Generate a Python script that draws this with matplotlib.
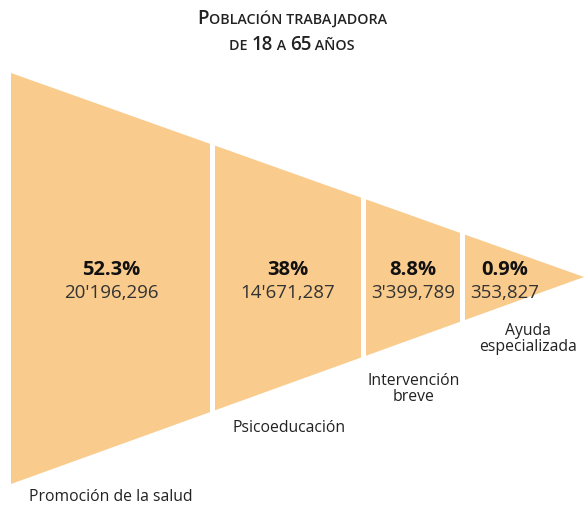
import matplotlib
matplotlib.use("Agg")
import matplotlib.pyplot as plt
from matplotlib.patches import Polygon

# data
stages = ["Promoción de la salud", "Psicoeducación", "Intervención\nbreve", "Ayuda\nespecializada"]
percents = ["52.3%", "38%", "8.8%", "0.9%"]
people = [20196296, 14671287, 3399789, 353827]

# layout (pixels)
W, H = 584, 508
left, right = 11, 584
top, bottom, mid = 73, 484, 277
seg_edges = [(11, 210), (215, 361), (366, 460), (465, 584)]
text_x = [111, 288, 413, 505]
label_pos = [(111, 497), (289, 428), (414, 389), (528, 339)]
fill = "#F9CB8C"
dark = "#222222"
font = "Open Sans"


def fmt(n):
    s = f"{n:,}"
    if s.count(",") == 2:
        s = s.replace(",", "'", 1)
    return s


def edge_y(x, y0):
    return y0 + (mid - y0) * (x - left) / (right - left)


fig = plt.figure(figsize=(W / 100, H / 100), dpi=100)
ax = fig.add_axes([0, 0, 1, 1])
ax.set_xlim(0, W)
ax.set_ylim(H, 0)
ax.axis("off")

for (x0, x1), pct, n, tx, lab, (lx, ly) in zip(seg_edges, percents, people, text_x, stages, label_pos):
    pts = [(x0, edge_y(x0, top)), (x1, edge_y(x1, top)),
           (x1, edge_y(x1, bottom)), (x0, edge_y(x0, bottom))]
    ax.add_patch(Polygon(pts, closed=True, facecolor=fill, edgecolor="none"))
    ax.text(tx, 270, pct, ha="center", va="center", fontsize=14.5, fontweight="bold",
            color="#111111", family=font)
    ax.text(tx, 293, fmt(n), ha="center", va="center", fontsize=13.5, color="#333333",
            family=font)
    ax.text(lx, ly, lab, ha="center", va="center", fontsize=11.3, color=dark,
            family=font, linespacing=1.0)

# title in small caps
renderer = fig.canvas.get_renderer()


def small_caps_line(text, y, big=13.5, small=10.3):
    pieces = []
    for ch in text:
        if ch == " ":
            pieces.append((" ", small))
        elif ch.isupper() or ch.isdigit():
            pieces.append((ch, big))
        else:
            pieces.append((ch.upper(), small))
    # merge runs of same size
    runs = []
    for ch, sz in pieces:
        if runs and runs[-1][1] == sz:
            runs[-1][0] += ch
        else:
            runs.append([ch, sz])
    x = 0
    arts = []
    for s, sz in runs:
        t = ax.text(x, y, s.replace(" ", "\u00a0"), fontsize=sz, fontweight="semibold",
                    color=dark, family=font, va="baseline", ha="left")
        bb = t.get_window_extent(renderer)
        arts.append((t, x))
        x += bb.width
    shift = W / 2 - x / 2
    for t, x0 in arts:
        t.set_x(x0 + shift)


small_caps_line("Población trabajadora", 24)
small_caps_line("de 18 a 65 años", 50)

fig.savefig("out.png", dpi=100)
